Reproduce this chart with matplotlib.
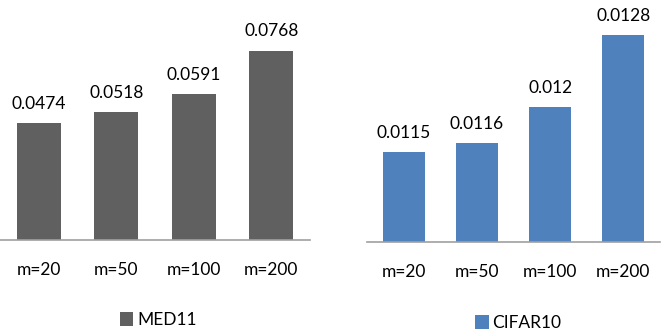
import numpy as np
import matplotlib.pyplot as plt

plt.rcParams['font.family'] = ['Lato', 'DejaVu Sans']

cats = ["m=20", "m=50", "m=100", "m=200"]
med11 = [0.0474, 0.0518, 0.0591, 0.0768]
cifar10 = [0.0115, 0.0116, 0.012, 0.0128]

fig = plt.figure(figsize=(6.65, 3.36), dpi=100)

# left and right panels, placed by hand to match the layout
ax1 = fig.add_axes([0 / 665, 1 - 240 / 336, 310 / 665, 222 / 336])
ax2 = fig.add_axes([367 / 665, 1 - 242 / 336, 293 / 665, 225 / 336])

x = np.arange(len(cats))


def draw(ax, vals, color, name, ylim, leg_xy):
    ax.bar(x, vals, width=0.57, color=color, label=name)
    for xi, v in zip(x, vals):
        ax.annotate(str(v), (xi, v), xytext=(0, 14), textcoords="offset points",
                    ha="center", va="center", fontsize=12.5, color="black")
    ax.set_xlim(-0.5, 3.5)
    ax.set_ylim(*ylim)
    ax.set_xticks(x)
    ax.set_xticklabels(cats, fontsize=12.5)
    ax.tick_params(axis="x", length=0, pad=16)
    ax.set_yticks([])
    for s in ["top", "left", "right"]:
        ax.spines[s].set_visible(False)
    ax.spines["bottom"].set_color("#a0a0a0")
    ax.spines["bottom"].set_linewidth(1.2)
    fig.legend(handles=ax.containers[0][:1], labels=[name], loc="center",
               bbox_to_anchor=leg_xy, frameon=False, fontsize=12.5,
               handlelength=0.8, handleheight=0.8, handletextpad=0.2)


draw(ax1, med11, "#606060", "MED11", (0, 0.09), (158 / 665, 1 - 320 / 336))
draw(ax2, cifar10, "#4f81bd", "CIFAR10", (0.0105, 0.013), (518 / 665, 1 - 323 / 336))

fig.savefig("out.png", dpi=100)
